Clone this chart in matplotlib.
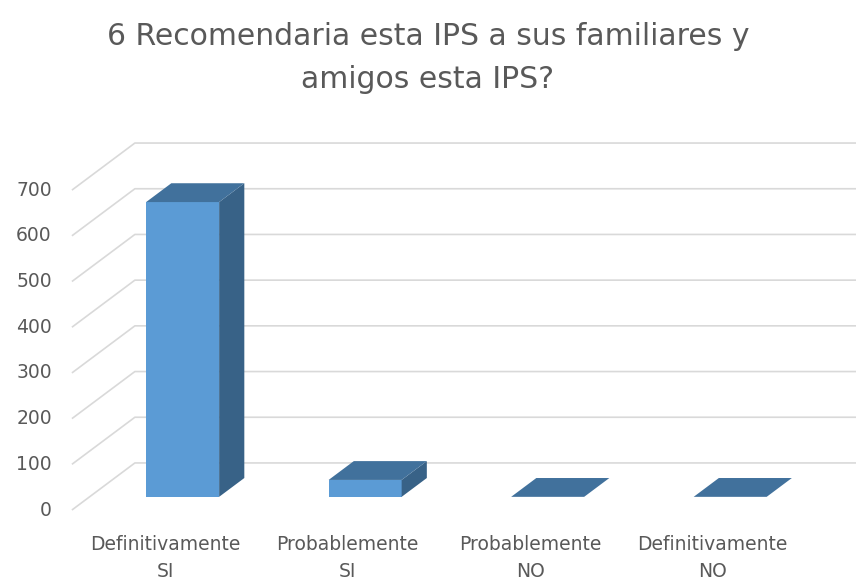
import matplotlib
matplotlib.use("Agg")
import matplotlib.pyplot as plt
from matplotlib.patches import Polygon

# data
categories = ["Definitivamente\nSI", "Probablemente\nSI", "Probablemente\nNO", "Definitivamente\nNO"]
values = [645, 37, 0, 0]
yticks = [0, 100, 200, 300, 400, 500, 600, 700]

title = "6 Recomendaria esta IPS a sus familiares y\namigos esta IPS?"

front_col = "#5B9BD5"
top_col = "#41719C"
side_col = "#386287"
grid_col = "#D9D9D9"
text_col = "#595959"
font = "DejaVu Sans"

# pseudo-3d geometry (category units / value units)
wall_dx, wall_dy = 0.345, 103.0   # depth of the floor/back wall
d0, d1 = 0.28, 0.68               # bar depth span as fraction of wall depth
bar_w = 0.40
left = -0.51                      # left edge of front plane

fig = plt.figure(figsize=(8.56, 5.82), dpi=100)
ax = fig.add_axes([0, 0, 1, 1])
ax.set_xlim(-0.904, 3.786)
ax.set_ylim(-157.5, 1116)
ax.axis("off")

# gridlines: diagonal on the left wall then horizontal on back wall
for v in yticks:
    ax.plot([left, left + wall_dx, 5], [v, v + wall_dy, v + wall_dy],
            color=grid_col, lw=1.2, zorder=1, solid_capstyle="butt")
    ax.text(left - 0.11, v, str(v), ha="right", va="center",
            fontsize=13.5, color=text_col, family=font)

for i, (cat, v) in enumerate(zip(categories, values)):
    fx = i + d0 * wall_dx
    fy = d0 * wall_dy
    bx = (d1 - d0) * wall_dx
    by = (d1 - d0) * wall_dy
    x0, x1 = fx - bar_w / 2, fx + bar_w / 2
    if v > 0:
        ax.add_patch(Polygon([(x0, fy), (x1, fy), (x1, fy + v), (x0, fy + v)],
                             closed=True, fc=front_col, ec="none", zorder=3))
        ax.add_patch(Polygon([(x1, fy), (x1 + bx, fy + by), (x1 + bx, fy + by + v), (x1, fy + v)],
                             closed=True, fc=side_col, ec="none", zorder=3))
    ax.add_patch(Polygon([(x0, fy + v), (x1, fy + v), (x1 + bx, fy + by + v), (x0 + bx, fy + by + v)],
                         closed=True, fc=top_col, ec="none", zorder=4))
    ax.text(i, -55, cat, ha="center", va="top", multialignment="center",
            fontsize=13.5, color=text_col, family=font, linespacing=1.5)

fig.text(0.5, 0.963, title, ha="center", va="top", multialignment="center",
         fontsize=21.5, color=text_col, family=font, linespacing=1.65)

fig.savefig("out.png", dpi=100)
